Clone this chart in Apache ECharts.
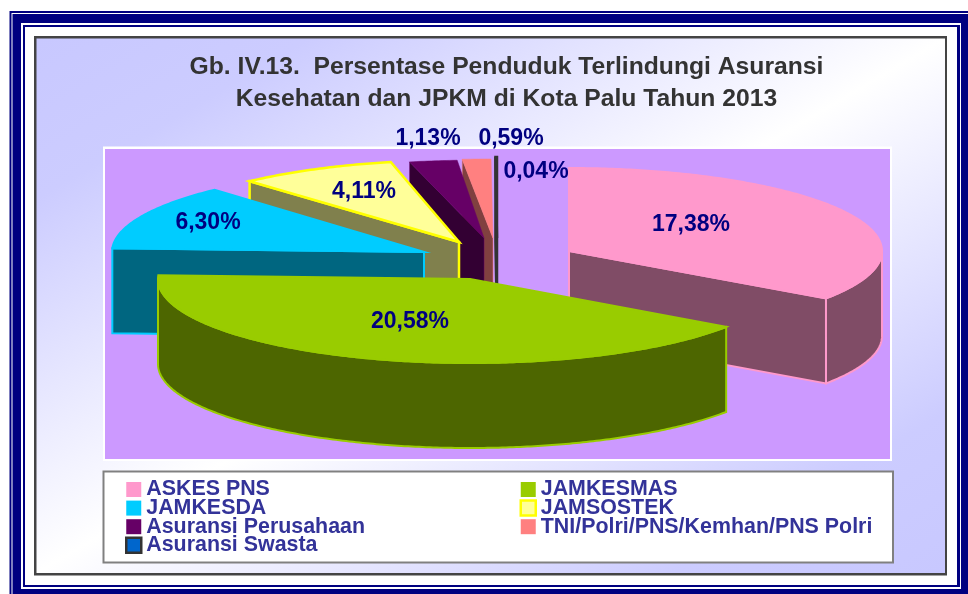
<!DOCTYPE html>
<html>
<head>
<meta charset="utf-8">
<style>html,body{margin:0;padding:0;background:#fff}#c{width:968px;height:594px}</style>
<script src="https://cdn.jsdelivr.net/npm/echarts@6/dist/echarts.min.js"></script>
</head>
<body>
<div id="c"></div>
<script>
// ---- data ----
const categories = ['ASKES PNS','JAMKESMAS','JAMKESDA','JAMSOSTEK','Asuransi Perusahaan','TNI/Polri/PNS/Kemhan/PNS Polri','Asuransi Swasta'];
const values = [17.38,20.58,6.30,4.11,1.13,0.59,0.04];
const valueLabels = ['17,38%','20,58%','6,30%','4,11%','1,13%','0,59%','0,04%'];
const titleText = 'Gb. IV.13.  Persentase Penduduk Terlindungi Asuransi\nKesehatan dan JPKM di Kota Palu Tahun 2013';
// ---- style ----
const fills = ['#ff99cc','#99cc00','#00ccff','#ffff99','#660066','#ff8080','#0066cc'];
const walls = ['#804c66','#4d6600','#006680','#80804d','#330033','#804040','#003366'];
const borders = ['#ff99cc','#99cc00','#00ccff','#ffff00','#660066','#ff8080','#333333'];
const lineWidths = [2,2,2,2.5,0.5,0.5,2.5];
// ---- layout of the exploded 3D pie (slice centre, radii, label offset from centre) ----
const centres = [[569,251],[470,279],[424,252],[459,242],[484,238],[493,238],[497,238]];
const radii = [[313,83],[312,84],[312,84],[312,82],[340,78],[390,79],[312,81]];
const labelOffsets = [[122,-28],[-60,41],[-216,-31],[-95,-52],[-56,-101],[18,-101],[39,-68]];
const depth = 85;
const drawRank = [6,7,5,4,3,2,1];
const total = values.reduce((a,b)=>a+b,0);
const starts = []; let acc = 0;
values.forEach(v=>{ starts.push(acc/total*360); acc += v; });
const rad = d=>d*Math.PI/180;

function makeRender(i){
  return function(){
    const [cx,cy] = centres[i], [rx,ry] = radii[i];
    const a0 = starts[i], a1 = a0 + values[i]/total*360;
    const pt = (a,dy)=>[cx+rx*Math.sin(rad(a)), cy-ry*Math.cos(rad(a))+(dy||0)];
    const arc = (p,q,dy)=>{ const r=[]; const n=Math.max(2,Math.ceil((q-p)*1.5));
      for(let k=0;k<=n;k++) r.push(pt(p+(q-p)*k/n,dy)); return r; };
    const wallStyle = {fill:walls[i],stroke:borders[i],lineWidth:lineWidths[i],lineJoin:'miter'};
    const kids = [];
    const radial = a=>({type:'polygon',shape:{points:[[cx,cy],pt(a),pt(a,depth),[cx,cy+depth]]},style:wallStyle});
    if(Math.sin(rad(a0))<0) kids.push(radial(a0));
    if(Math.sin(rad(a1))>0) kids.push(radial(a1));
    const o0 = Math.max(a0,90), o1 = Math.min(a1,270);
    if(o1>o0) kids.push({type:'polygon',shape:{points:arc(o0,o1,0).concat(arc(o0,o1,depth).reverse())},style:wallStyle});
    kids.push({type:'polygon',shape:{points:[[cx,cy]].concat(arc(a0,a1,0))},
      style:{fill:fills[i],stroke:borders[i],lineWidth:lineWidths[i],lineJoin:'miter'}});
    kids.push({type:'text',style:{text:valueLabels[i],x:cx+labelOffsets[i][0],y:cy+labelOffsets[i][1]+1.5,
      fill:'#000080',font:'bold 23px "Liberation Sans"',align:'center',verticalAlign:'middle'}});
    return {type:'group',children:kids};
  };
}
const series = values.map((v,i)=>({
  type:'custom', name:categories[i], coordinateSystem:'none', silent:true, animation:false,
  z:2+drawRank[i], itemStyle:{color:fills[i]}, data:[[v]], renderItem:makeRender(i)
}));

// ---- frames ----
const rectOf = (x0,y0,x1,y1,fill,z)=>({type:'rect',silent:true,z:z||0,shape:{x:x0,y:y0,width:x1-x0,height:y1-y0},style:{fill}});
const W=908.5,H=534.5,X0=36.5,Y0=38.5;
const tt=W*H/(W*W+H*H);
const gx=X0+W/2,gy=Y0+H/2;
const bgGrad={type:'linear',global:true,x:gx-tt*H,y:gy-tt*W,x2:gx+tt*H,y2:gy+tt*W,
  colorStops:[{offset:0,color:'#c8c8ff'},{offset:0.15,color:'#ccccff'},{offset:0.5,color:'#ffffff'},{offset:0.85,color:'#ccccff'},{offset:1,color:'#c8c8ff'}]};
const elements=[
  rectOf(9.5,11,975,600,'#000080'),
  rectOf(11.5,13,974,599,'#ffffff'),
  rectOf(12.5,14,973,598,'#000080'),
  rectOf(21,23,961,589,'#ffffff'),
  rectOf(23,25,960,587,'#000080'),
  rectOf(25,27,957,585,'#ffffff'),
  rectOf(34,36,947,575.5,'#444444'),
  rectOf(X0,Y0,945,573,bgGrad),
  rectOf(103,146.5,892,461,'#ffffff'),
  rectOf(105,149,890,459,'#cc99ff'),
  rectOf(102.5,470.5,894,563.5,'#808080'),
  rectOf(104.5,472.5,892,561.5,'#ffffff')
];

const legendBase = {orient:'vertical',itemWidth:15,itemHeight:15,itemGap:-2.4,padding:0,z:20,selectedMode:false,
  textStyle:{fontFamily:'Liberation Sans',fontWeight:'bold',fontSize:21.4,color:'#333399'}};
const legendItem = i=>({name:categories[i],icon:'rect',itemStyle:{color:fills[i],borderColor:borders[i],borderWidth:(i===3||i===6)?2.5:0}});

const chart = echarts.init(document.getElementById('c'),null,{renderer:'canvas'});
chart.setOption({
  animation:false,
  backgroundColor:'#ffffff',
  title:{text:titleText,left:501.5,top:46.5,textAlign:'center',z:20,
    textStyle:{fontFamily:'Liberation Sans',fontWeight:'bold',fontSize:24.7,color:'#333333',lineHeight:32}},
  legend:[
    Object.assign({},legendBase,{left:125,top:479,data:[0,2,4,6].map(legendItem)}),
    Object.assign({},legendBase,{left:519.5,top:479,data:[1,3,5].map(legendItem)})
  ],
  graphic:{elements},
  series
});
</script>
</body>
</html>
